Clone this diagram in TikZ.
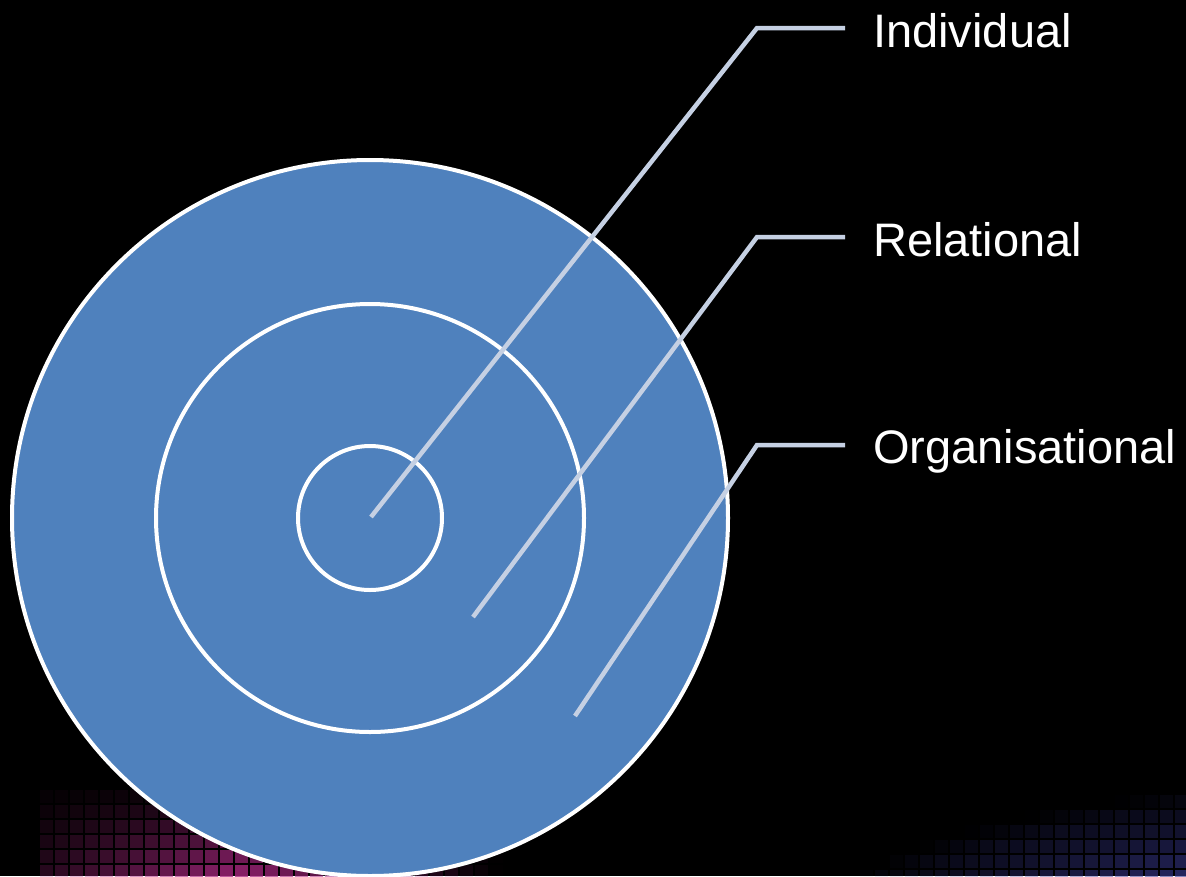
\documentclass[tikz,border=0pt]{standalone}
\usepackage{fontspec}
\setmainfont{Liberation Sans}
\begin{document}
\begin{tikzpicture}[x=1pt,y=-1pt,
  ring/.style={circle,draw=white,line width=4pt,fill=ringblue,inner sep=0pt,minimum size=#1},
  leader/.style={draw=leadgrey,line width=4.5pt,line join=miter},
  lab/.style={anchor=base west,inner sep=0pt,text=white,font=\fontsize{47}{56}\selectfont}]
\definecolor{ringblue}{RGB}{79,129,189}
\definecolor{leadgrey}{RGB}{197,208,227}
\definecolor{tilemag}{RGB}{170,40,130}
\definecolor{tileblue}{RGB}{60,60,150}
\fill[black] (0,0) rectangle (1186,876);
\useasboundingbox (0,0) rectangle (1186,876);
% faint tiled glow at the bottom
\foreach \i in {0,...,40} {
  \foreach \j in {0,...,6} {
    \pgfmathsetmacro{\xx}{40+\i*15}
    \pgfmathsetmacro{\yy}{775+\j*15}
    \pgfmathsetmacro{\op}{max(0,0.8-abs(\xx-230)/330)*\j/6}
    \fill[tilemag,opacity=\op] (\xx,\yy) rectangle ++(13,13);
  }
}
\foreach \i in {0,...,24} {
  \foreach \j in {0,...,6} {
    \pgfmathsetmacro{\xx}{830+\i*15}
    \pgfmathsetmacro{\yy}{780+\j*15}
    \pgfmathsetmacro{\op}{max(0,(\xx-830)/360*0.65*\j/6 - max(0,(880-\yy-(\xx-830)*0.25))/200)}
    \fill[tileblue,opacity=\op] (\xx,\yy) rectangle ++(13,13);
  }
}
\node[ring=716pt] (outer) at (370,518) {};
\node[ring=428pt] (middle) at (370,518) {};
\node[ring=144pt] (inner) at (370,518) {};
\node[lab] (lind) at (873,47) {Individual};
\node[lab] (lrel) at (873,256) {Relational};
\node[lab] (lorg) at (873,463) {Organisational};
\coordinate (sind) at (371,517);
\coordinate (srel) at (473,617);
\coordinate (sorg) at (575,716);
\coordinate (bind) at (757,28);
\coordinate (brel) at (757,237);
\coordinate (borg) at (757,445);
\path[leader] (sind) -- (bind) -- ([xshift=-28pt]lind.west |- bind);
\path[leader] (srel) -- (brel) -- ([xshift=-28pt]lrel.west |- brel);
\path[leader] (sorg) -- (borg) -- ([xshift=-28pt]lorg.west |- borg);
\end{tikzpicture}
\end{document}
